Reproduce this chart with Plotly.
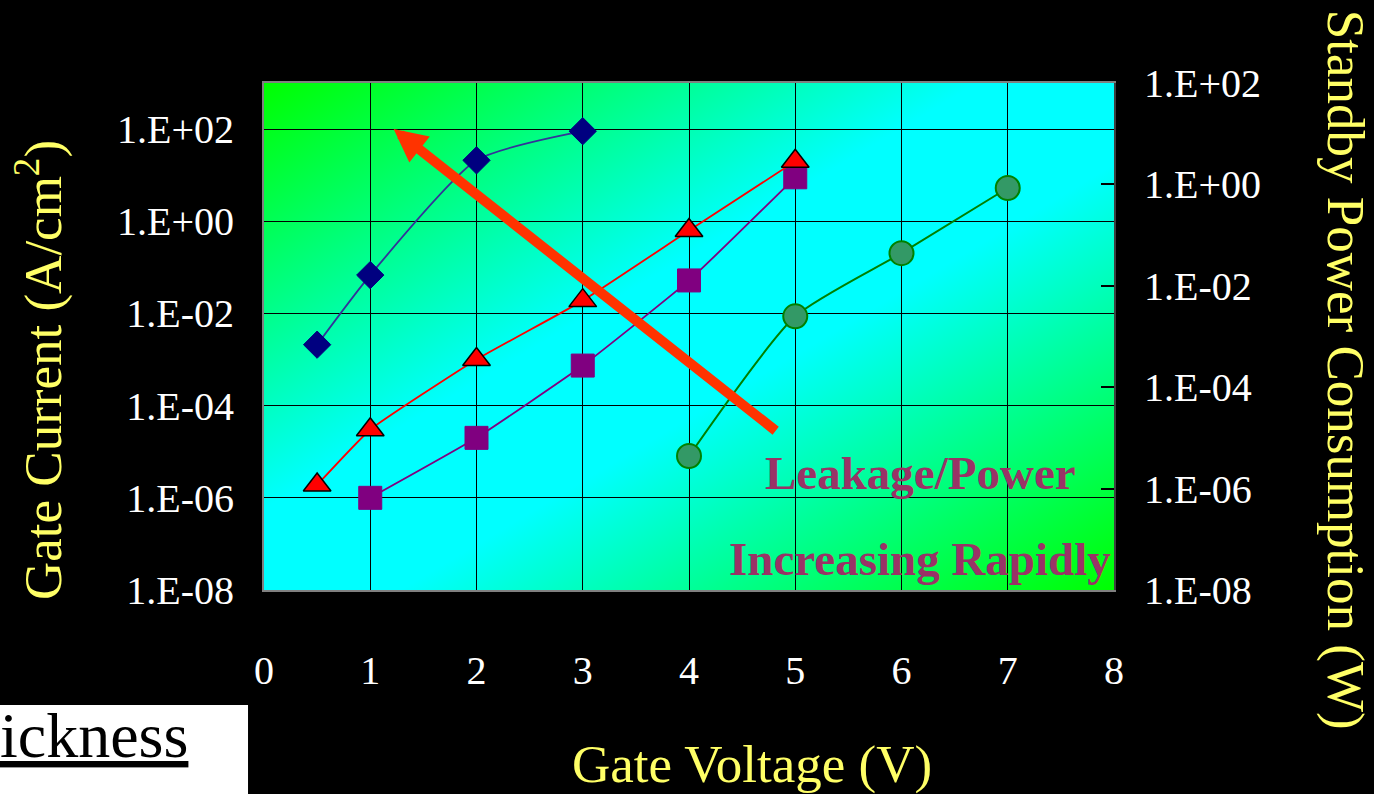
import base64
import plotly.graph_objects as go

# Gate voltage (V) and gate current density (A/cm^2) per oxide series
vg_diamond = [0.5, 1, 2, 3]
ig_diamond = [2.1e-3, 0.068, 21, 90]

vg_triangle = [0.5, 1, 2, 3, 4, 5]
ig_triangle = [1.9e-6, 3e-5, 1e-3, 0.019, 0.63, 20]

vg_square = [1, 2, 3, 4, 5]
ig_square = [1e-6, 2e-5, 7.4e-4, 0.052, 9]

# Standby power consumption (W), plotted on the right-hand axis
vg_circle = [4, 5, 6, 7]
pw_circle = [4.4e-6, 2.5e-3, 0.044, 0.85]

x_ticks = [0, 1, 2, 3, 4, 5, 6, 7, 8]
y_ticks = [1e-8, 1e-6, 1e-4, 1e-2, 1e0, 1e2]
y_ticktext = ["1.E-08", "1.E-06", "1.E-04", "1.E-02", "1.E+00", "1.E+02"]

SERIF = "Liberation Serif, Times New Roman, serif"
YELLOW = "#FFFF66"

# Diagonal green -> cyan -> green fill for the plotting area
svg = (
    "<svg xmlns='http://www.w3.org/2000/svg' width='100' height='100' "
    "viewBox='0 0 100 100' preserveAspectRatio='none'>"
    "<defs><linearGradient id='g' x1='0' y1='0' x2='1' y2='1'>"
    "<stop offset='0' stop-color='#00ff00'/>"
    "<stop offset='0.42' stop-color='#00ffff'/>"
    "<stop offset='0.58' stop-color='#00ffff'/>"
    "<stop offset='1' stop-color='#00ff00'/>"
    "</linearGradient></defs>"
    "<rect width='100' height='100' fill='url(#g)'/></svg>"
)
bg_uri = "data:image/svg+xml;base64," + base64.b64encode(svg.encode()).decode()

fig = go.Figure()

fig.add_trace(go.Scatter(
    x=vg_diamond, y=ig_diamond, mode="lines+markers", name="Series 1",
    line=dict(color="#333399", width=1.8, shape="spline", smoothing=0.6),
    marker=dict(symbol="diamond", size=21, color="#000080",
                line=dict(color="#000080", width=1)),
))
fig.add_trace(go.Scatter(
    x=vg_square, y=ig_square, mode="lines+markers", name="Series 3",
    line=dict(color="#800080", width=1.8, shape="spline", smoothing=0.4),
    marker=dict(symbol="square", size=23, color="#800080",
                line=dict(color="#800080", width=1)),
))
fig.add_trace(go.Scatter(
    x=vg_triangle, y=ig_triangle, mode="lines+markers", name="Series 2",
    line=dict(color="#FF0000", width=1.8, shape="spline", smoothing=0.4),
    marker=dict(symbol="triangle-up", size=24, color="#FF0000",
                line=dict(color="#000000", width=1.5)),
))
fig.add_trace(go.Scatter(
    x=vg_circle, y=pw_circle, mode="lines+markers", name="Standby power",
    yaxis="y2",
    line=dict(color="#008000", width=2, shape="spline", smoothing=0.6),
    marker=dict(symbol="circle", size=24, color="#339966",
                line=dict(color="#008000", width=2)),
))

annotations = [
    # trend arrow
    dict(x=1.22, y=2.0, ax=4.83, ay=-4.57, xref="x", yref="y",
         axref="x", ayref="y", text="", showarrow=True,
         arrowhead=2, arrowsize=0.66, arrowwidth=10, arrowcolor="#FF3300",
         standoff=0, startstandoff=0),
    dict(x=0.772, y=0.230, xref="paper", yref="paper", showarrow=False,
         text="Leakage/Power", xanchor="center", yanchor="middle",
         font=dict(family=SERIF, size=47, color="#993366", weight="bold")),
    dict(x=0.772, y=0.061, xref="paper", yref="paper", showarrow=False,
         text="Increasing Rapidly", xanchor="center", yanchor="middle",
         font=dict(family=SERIF, size=47, color="#993366", weight="bold")),
    # axis titles
    dict(x=-0.2635, y=0.434, xref="paper", yref="paper", showarrow=False,
         text="Gate Current (A/cm<sup>2</sup>)", textangle=-90,
         xanchor="center", yanchor="middle",
         font=dict(family=SERIF, size=53, color=YELLOW)),
    dict(x=1.272, y=0.434, xref="paper", yref="paper", showarrow=False,
         text="Standby Power Consumption (W)", textangle=90,
         xanchor="center", yanchor="middle",
         font=dict(family=SERIF, size=53, color=YELLOW)),
    dict(x=0.574, y=-0.345, xref="paper", yref="paper", showarrow=False,
         text="Gate Voltage (V)", xanchor="center", yanchor="middle",
         font=dict(family=SERIF, size=53, color=YELLOW)),
    # caption box text
    dict(x=-0.3135, y=-0.287, xref="paper", yref="paper", showarrow=False,
         text="<u>ickness</u>", xanchor="left", yanchor="middle",
         font=dict(family=SERIF, size=64, color="#000000")),
]

shapes = [
    dict(type="rect", xref="paper", yref="paper",
         x0=-0.32, x1=-0.0188, y0=-0.2268, y1=-0.42,
         fillcolor="#FFFFFF", line=dict(width=0), layer="above"),
]

fig.update_layout(
    width=1374, height=794,
    margin=dict(l=264, r=260, t=83, b=204),
    paper_bgcolor="#000000",
    plot_bgcolor="rgba(0,0,0,0)",
    showlegend=False,
    font=dict(family=SERIF, color="#FFFFFF"),
    images=[dict(source=bg_uri, xref="paper", yref="paper", x=0, y=1,
                 sizex=1, sizey=1, sizing="stretch", layer="below",
                 xanchor="left", yanchor="top")],
    xaxis=dict(
        range=[0, 8], tickvals=x_ticks, ticks="",
        showgrid=True, gridcolor="#000000", gridwidth=1,
        zeroline=False, showline=True, linecolor="#808080", linewidth=2,
        mirror=True, tickfont=dict(family=SERIF, size=40, color="#FFFFFF"),
        ticklabelstandoff=44,
    ),
    yaxis=dict(
        type="log", range=[-8, 3], tickvals=y_ticks, ticktext=y_ticktext,
        ticks="", showgrid=True, gridcolor="#000000", gridwidth=1,
        zeroline=False, showline=True, linecolor="#808080", linewidth=2,
        tickfont=dict(family=SERIF, size=40, color="#FFFFFF"),
        ticklabelstandoff=20,
    ),
    yaxis2=dict(
        type="log", range=[-8, 2], tickvals=y_ticks, ticktext=y_ticktext,
        overlaying="y", side="right", anchor="x",
        ticks="inside", ticklen=13, tickwidth=1.5, tickcolor="#000000",
        showgrid=False, zeroline=False, showline=True,
        linecolor="#404040", linewidth=2,
        tickfont=dict(family=SERIF, size=40, color="#FFFFFF"),
        ticklabelstandoff=20,
    ),
    annotations=annotations,
    shapes=shapes,
)

fig.write_html("out.html")
